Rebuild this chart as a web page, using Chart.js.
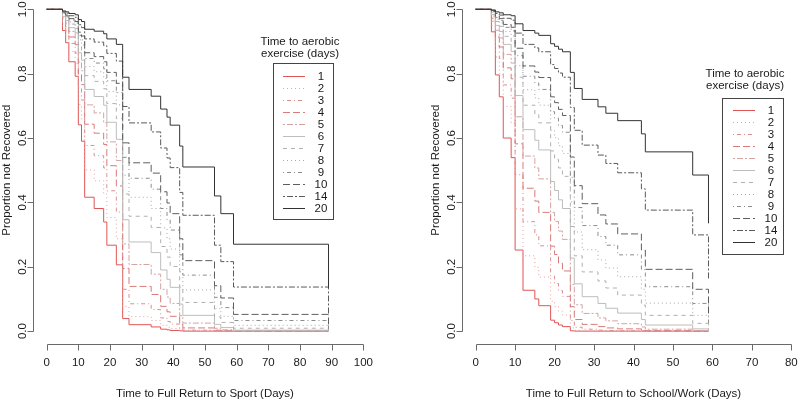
<!DOCTYPE html>
<html>
<head>
<meta charset="utf-8">
<script src="https://cdn.jsdelivr.net/npm/chart.js@4.4.1/dist/chart.umd.min.js"></script>
<style>
  html, body { margin: 0; padding: 0; background: #fff; overflow: hidden; }
  #wrap { position: relative; width: 800px; height: 402px; overflow: hidden; }
  canvas { position: absolute; top: 0; }
  #sport { left: 0; }
  #school { left: 400px; }
</style>
</head>
<body>
<div id="wrap">
  <canvas id="sport" width="400" height="402"></canvas>
  <canvas id="school" width="420" height="402"></canvas>
</div>
<script>
// groups: time to aerobic exercise (days)
const groups = [1, 2, 3, 4, 5, 6, 7, 8, 9, 10, 14, 20];

const xTicksSport = [0, 10, 20, 30, 40, 50, 60, 70, 80, 90, 100];
const xTicksSchool = [0, 10, 20, 30, 40, 50, 60, 70, 80];
const yTicks = [0, 0.2, 0.4, 0.6, 0.8, 1.0];

// left panel: return to sport
const sportDays = [0, 5, 6, 7, 9, 10, 11, 12, 15, 18, 19, 22, 24, 26, 33, 36, 38, 39, 42, 43, 53, 55, 59, 89];
const sportSurvival = [
  [1, 0.934, 0.896, 0.837, 0.792, 0.641, 0.590, 0.416, 0.381, 0.339, 0.267, 0.206, 0.039, 0.020, 0.013, 0.006, 0.004, 0.002, 0.001, 0, 0, 0, 0, 0],
  [1, 0.947, 0.917, 0.869, 0.832, 0.704, 0.660, 0.501, 0.467, 0.426, 0.353, 0.287, 0.077, 0.045, 0.033, 0.018, 0.012, 0.008, 0.003, 0.001, 0, 0, 0, 0],
  [1, 0.958, 0.934, 0.894, 0.864, 0.756, 0.718, 0.577, 0.545, 0.507, 0.436, 0.370, 0.130, 0.085, 0.067, 0.041, 0.030, 0.022, 0.009, 0.003, 0.001, 0, 0, 0],
  [1, 0.966, 0.946, 0.914, 0.890, 0.799, 0.766, 0.643, 0.615, 0.580, 0.514, 0.451, 0.195, 0.139, 0.114, 0.077, 0.060, 0.046, 0.022, 0.010, 0.003, 0.001, 0, 0],
  [1, 0.973, 0.957, 0.931, 0.911, 0.836, 0.809, 0.703, 0.678, 0.648, 0.588, 0.530, 0.271, 0.207, 0.177, 0.130, 0.106, 0.086, 0.048, 0.025, 0.009, 0.004, 0.001, 0],
  [1, 0.978, 0.965, 0.943, 0.927, 0.865, 0.842, 0.751, 0.729, 0.702, 0.649, 0.596, 0.346, 0.277, 0.244, 0.190, 0.161, 0.136, 0.084, 0.049, 0.021, 0.011, 0.003, 0],
  [1, 0.982, 0.972, 0.954, 0.941, 0.890, 0.871, 0.794, 0.776, 0.753, 0.707, 0.660, 0.426, 0.357, 0.322, 0.263, 0.230, 0.201, 0.137, 0.089, 0.044, 0.027, 0.009, 0.001],
  [1, 0.985, 0.976, 0.961, 0.949, 0.905, 0.889, 0.822, 0.806, 0.785, 0.745, 0.703, 0.484, 0.416, 0.381, 0.321, 0.287, 0.255, 0.184, 0.128, 0.070, 0.046, 0.018, 0.002],
  [1, 0.987, 0.979, 0.967, 0.957, 0.919, 0.905, 0.847, 0.833, 0.815, 0.778, 0.741, 0.540, 0.475, 0.441, 0.381, 0.346, 0.314, 0.237, 0.174, 0.105, 0.073, 0.033, 0.006],
  [1, 0.989, 0.982, 0.971, 0.962, 0.929, 0.917, 0.865, 0.853, 0.837, 0.804, 0.770, 0.585, 0.523, 0.491, 0.433, 0.398, 0.365, 0.287, 0.219, 0.141, 0.103, 0.052, 0.011],
  [1, 0.992, 0.988, 0.980, 0.975, 0.952, 0.943, 0.908, 0.898, 0.887, 0.863, 0.839, 0.698, 0.647, 0.619, 0.569, 0.538, 0.508, 0.431, 0.360, 0.267, 0.216, 0.137, 0.048],
  [1, 0.995, 0.992, 0.987, 0.983, 0.968, 0.962, 0.938, 0.932, 0.924, 0.908, 0.891, 0.789, 0.751, 0.730, 0.690, 0.665, 0.640, 0.575, 0.510, 0.420, 0.365, 0.270, 0.135]
];

// right panel: return to school/work
const schoolDays = [0, 4, 5, 6, 7, 9, 10, 12, 15, 16, 19, 20, 21, 22, 24, 25, 27, 31, 33, 36, 42, 43, 55, 59];
const schoolSurvival = [
  [1, 0.930, 0.796, 0.728, 0.600, 0.539, 0.252, 0.127, 0.100, 0.079, 0.034, 0.026, 0.019, 0.014, 0.001, 0, 0, 0, 0, 0, 0, 0, 0, 0],
  [1, 0.950, 0.852, 0.800, 0.698, 0.647, 0.380, 0.234, 0.198, 0.168, 0.093, 0.077, 0.062, 0.050, 0.010, 0.003, 0.001, 0.001, 0, 0, 0, 0, 0, 0],
  [1, 0.963, 0.888, 0.847, 0.765, 0.724, 0.486, 0.340, 0.299, 0.265, 0.171, 0.148, 0.126, 0.108, 0.033, 0.012, 0.006, 0.003, 0.002, 0.001, 0.001, 0, 0, 0],
  [1, 0.972, 0.914, 0.883, 0.818, 0.784, 0.582, 0.444, 0.404, 0.369, 0.264, 0.238, 0.211, 0.187, 0.076, 0.036, 0.021, 0.014, 0.010, 0.007, 0.003, 0.001, 0, 0],
  [1, 0.979, 0.935, 0.911, 0.860, 0.833, 0.666, 0.544, 0.507, 0.473, 0.369, 0.341, 0.311, 0.285, 0.145, 0.082, 0.055, 0.041, 0.032, 0.023, 0.013, 0.006, 0.002, 0],
  [1, 0.984, 0.950, 0.931, 0.891, 0.869, 0.732, 0.626, 0.593, 0.563, 0.465, 0.437, 0.408, 0.381, 0.227, 0.147, 0.107, 0.086, 0.071, 0.056, 0.036, 0.019, 0.007, 0.001],
  [1, 0.988, 0.962, 0.947, 0.916, 0.899, 0.789, 0.702, 0.673, 0.647, 0.560, 0.534, 0.507, 0.481, 0.325, 0.234, 0.184, 0.156, 0.134, 0.112, 0.081, 0.049, 0.024, 0.004],
  [1, 0.990, 0.969, 0.957, 0.931, 0.917, 0.825, 0.750, 0.725, 0.702, 0.624, 0.601, 0.576, 0.552, 0.402, 0.308, 0.253, 0.221, 0.196, 0.169, 0.130, 0.087, 0.049, 0.010],
  [1, 0.992, 0.975, 0.965, 0.944, 0.933, 0.856, 0.792, 0.771, 0.751, 0.682, 0.662, 0.639, 0.618, 0.478, 0.384, 0.328, 0.294, 0.267, 0.237, 0.191, 0.138, 0.086, 0.025],
  [1, 0.993, 0.979, 0.971, 0.953, 0.944, 0.879, 0.824, 0.805, 0.788, 0.728, 0.710, 0.689, 0.670, 0.541, 0.452, 0.396, 0.361, 0.333, 0.302, 0.252, 0.192, 0.130, 0.046],
  [1, 0.996, 0.987, 0.982, 0.972, 0.966, 0.926, 0.891, 0.880, 0.868, 0.828, 0.816, 0.802, 0.789, 0.695, 0.624, 0.578, 0.547, 0.521, 0.492, 0.442, 0.376, 0.299, 0.161],
  [1, 0.998, 0.992, 0.989, 0.983, 0.980, 0.955, 0.934, 0.926, 0.919, 0.893, 0.885, 0.876, 0.868, 0.804, 0.754, 0.720, 0.697, 0.677, 0.654, 0.613, 0.557, 0.485, 0.335]
];

// line looks, red fading through grey to black
const groupColors = ['#e05555', '#e8a0a0', '#dc8e8e', '#d87a7a', '#d4a4a4', '#bdbdbd',
                     '#b0b0b0', '#a8a8a8', '#8c8c8c', '#5e5e5e', '#5a5a5a', '#333333'];
const groupDashes = [[], [1, 3], [1, 3, 4, 3], [7, 3], [2, 2, 6, 2], [],
                     [4, 4], [1, 3], [1, 3, 4, 3], [7, 3], [2, 2, 6, 2], []];

const FONT = '"Liberation Sans", Arial, Helvetica, sans-serif';

function drawAxes(chart, o) {
    const ctx = chart.ctx;
    const xs = chart.scales.x;
    const ys = chart.scales.y;
    const area = chart.chartArea;
    ctx.save();
    ctx.strokeStyle = '#6a6a6a';
    ctx.lineWidth = 1;
    ctx.setLineDash([]);
    ctx.fillStyle = '#1a1a1a';
    ctx.font = '11.5px ' + FONT;
    ctx.textAlign = 'center';
    ctx.textBaseline = 'middle';

    // x axis
    const yb = Math.round(area.bottom) + 0.5;
    ctx.beginPath();
    ctx.moveTo(Math.round(xs.getPixelForValue(o.xTicks[0])) + 0.5, yb);
    ctx.lineTo(Math.round(xs.getPixelForValue(o.xTicks[o.xTicks.length - 1])) + 0.5, yb);
    o.xTicks.forEach(t => {
        const px = Math.round(xs.getPixelForValue(t)) + 0.5;
        ctx.moveTo(px, yb);
        ctx.lineTo(px, yb + 6);
    });
    ctx.stroke();
    o.xTicks.forEach(t => ctx.fillText(String(t), xs.getPixelForValue(t), yb + 18));
    ctx.fillText(o.xTitle, (area.left + area.right) / 2, yb + 49);

    // y axis
    const xl = Math.round(area.left) - 0.5;
    ctx.beginPath();
    ctx.moveTo(xl, Math.round(ys.getPixelForValue(o.yTicks[0])) + 0.5);
    ctx.lineTo(xl, Math.round(ys.getPixelForValue(o.yTicks[o.yTicks.length - 1])) + 0.5);
    o.yTicks.forEach(t => {
        const py = Math.round(ys.getPixelForValue(t)) + 0.5;
        ctx.moveTo(xl, py);
        ctx.lineTo(xl - 6, py);
    });
    ctx.stroke();
    o.yTicks.forEach(t => {
        ctx.save();
        ctx.translate(xl - 11, ys.getPixelForValue(t));
        ctx.rotate(-Math.PI / 2);
        ctx.fillText(t.toFixed(1), 0, 0);
        ctx.restore();
    });
    ctx.save();
    ctx.translate(xl - 27, (ys.getPixelForValue(0) + ys.getPixelForValue(1)) / 2);
    ctx.rotate(-Math.PI / 2);
    ctx.fillText(o.yTitle, 0, 0);
    ctx.restore();
    ctx.restore();
}

function drawKey(chart, lg) {
    const ctx = chart.ctx;
    ctx.save();
    ctx.lineWidth = 1;
    ctx.fillStyle = '#1a1a1a';
    ctx.font = '11.5px ' + FONT;
    ctx.textAlign = 'center';
    ctx.textBaseline = 'middle';
    ctx.fillText('Time to aerobic', lg.titleX, lg.titleY);
    ctx.fillText('exercise (days)', lg.titleX, lg.titleY + 12);
    ctx.setLineDash([]);
    ctx.strokeStyle = '#444444';
    ctx.strokeRect(lg.left + 0.5, lg.top + 0.5, lg.width, lg.height);
    groups.forEach((g, i) => {
        const y = Math.round(lg.rowTop + i * lg.rowStep) + 0.5;
        ctx.beginPath();
        ctx.strokeStyle = groupColors[i];
        ctx.setLineDash(groupDashes[i]);
        ctx.moveTo(lg.lineX1, y);
        ctx.lineTo(lg.lineX2, y);
        ctx.stroke();
        ctx.fillText(String(g), lg.numX, y);
    });
    ctx.restore();
}

// R style axes and legend, placed with the chart's own scales
const rStyle = {
    id: 'rStyle',
    afterDatasetsDraw(chart, args, o) {
        drawAxes(chart, o);
        drawKey(chart, o.key);
    }
};

function buildDatasets(days, survival) {
    return groups.map((g, i) => ({
        label: String(g),
        data: days.map((d, j) => ({ x: d, y: survival[i][j] })),
        borderColor: groupColors[i],
        borderDash: groupDashes[i],
        borderWidth: 1,
        stepped: true,
        pointRadius: 0,
        fill: false,
        clip: false,
        order: groups.length - i
    }));
}

function makePanel(id, days, survival, xMin, xMax, padding, style) {
    new Chart(document.getElementById(id).getContext('2d'), {
        type: 'line',
        data: { datasets: buildDatasets(days, survival) },
        options: {
            responsive: false,
            animation: false,
            layout: { padding: padding },
            scales: {
                x: { type: 'linear', min: xMin, max: xMax, display: false },
                y: { type: 'linear', min: -0.04, max: 1.0, display: false }
            },
            plugins: {
                legend: { display: false },
                tooltip: { enabled: false },
                rStyle: style
            }
        },
        plugins: [rStyle]
    });
}

makePanel('sport', sportDays, sportSurvival, -4, 104,
    { left: 34, right: 24, top: 9.3, bottom: 58 },
    {
        xTicks: xTicksSport, yTicks: yTicks,
        xTitle: 'Time to Full Return to Sport (Days)',
        yTitle: 'Proportion not Recovered',
        key: { titleX: 300, titleY: 42, left: 273, top: 63, width: 60, height: 156,
               rowTop: 76, rowStep: 12, lineX1: 283, lineX2: 305, numX: 321 }
    });

makePanel('school', schoolDays, schoolSurvival, -3.2, 83.2,
    { left: 63, right: 16, top: 9.3, bottom: 58 },
    {
        xTicks: xTicksSchool, yTicks: yTicks,
        xTitle: 'Time to Full Return to School/Work (Days)',
        yTitle: 'Proportion not Recovered',
        key: { titleX: 345, titleY: 74, left: 322, top: 98, width: 61, height: 156,
               rowTop: 110, rowStep: 12, lineX1: 333, lineX2: 355, numX: 371 }
    });
</script>
</body>
</html>
